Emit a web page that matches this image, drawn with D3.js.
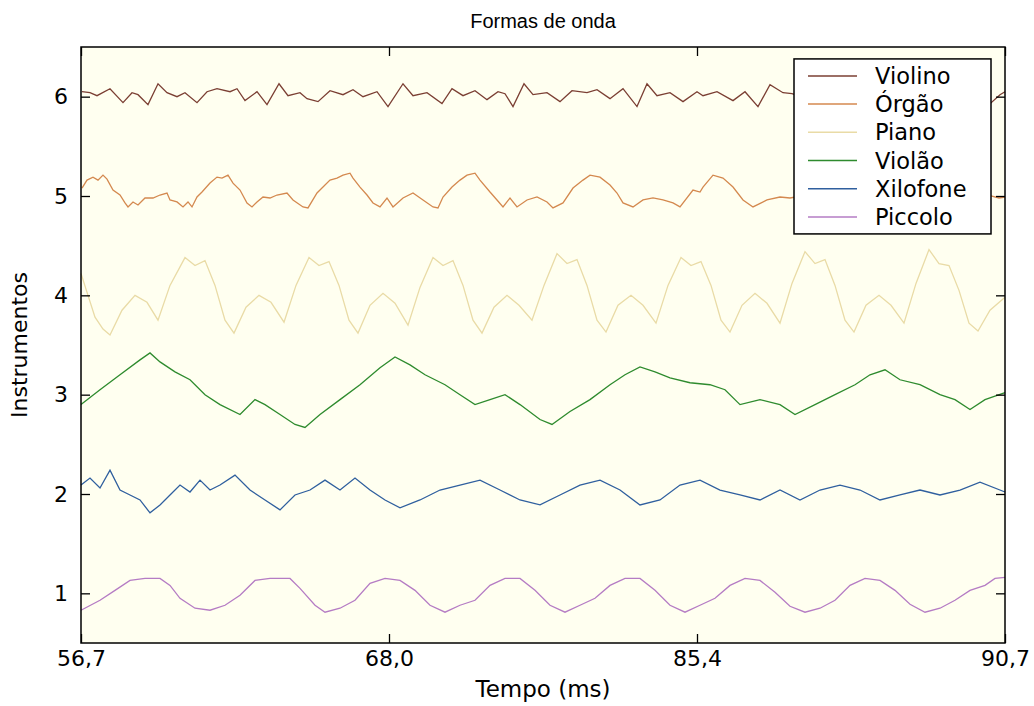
<!DOCTYPE html>
<html>
<head>
<meta charset="utf-8">
<script src="https://cdn.jsdelivr.net/npm/d3@7.9.0/dist/d3.min.js"></script>
<style>
  body { margin: 0; background: #fff; }
  text { font-family: "DejaVu Sans", Arial, sans-serif; fill: #000; }
</style>
</head>
<body>
<svg id="chart" width="1034" height="706"></svg>
<script>
// sample index 0..924 across the window, value in "instrument" units
const xTickLabels = ["56,7", "68,0", "85,4", "90,7"];
const yTicks = [1, 2, 3, 4, 5, 6];
const instruments = ["Violino", "Órgão", "Piano", "Violão", "Xilofone", "Piccolo"];
const colors = ["#7b3f33", "#d4894f", "#e9dba6", "#2e8b2e", "#2f5f9e", "#b57cc4"];

const violino = [[1,6.05],[9,6.04],[16,6.01],[29,6.08],[42,5.94],[51,6.04],[57,6.02],[67,5.92],[77,6.13],[86,6.04],[96,6.0],[104,6.04],[116,5.94],[126,6.05],[136,6.08],[149,6.05],[156,6.08],[164,5.96],[176,6.05],[186,5.92],[198,6.13],[207,6.01],[219,6.04],[226,5.98],[237,5.95],[249,6.06],[262,6.02],[272,6.07],[282,6.0],[296,6.05],[307,5.9],[322,6.13],[332,6.01],[346,6.04],[361,5.93],[371,6.08],[382,6.01],[394,6.06],[406,5.97],[417,6.05],[424,6.03],[432,5.9],[443,6.13],[452,6.02],[466,6.04],[479,5.95],[491,6.06],[506,6.04],[516,6.07],[529,5.98],[542,6.08],[556,5.9],[566,6.13],[576,6.01],[589,6.04],[602,5.95],[616,6.05],[622,6.01],[636,6.05],[652,5.96],[664,6.05],[677,5.9],[689,6.12],[702,6.04],[711,6.03],[720,6.0],[735,6.06],[748,5.94],[760,6.05],[775,6.08],[788,6.05],[798,5.92],[810,6.13],[820,6.02],[835,6.04],[848,5.95],[860,6.06],[872,6.07],[884,6.0],[896,6.05],[908,5.92],[919,6.02],[924,6.05]];

const orgao = [[1,5.08],[6,5.16],[12,5.19],[17,5.16],[22,5.21],[26,5.17],[32,5.06],[39,5.01],[44,4.93],[47,4.89],[52,4.94],[57,4.91],[64,4.98],[72,4.98],[79,5.01],[86,5.03],[89,4.96],[96,4.94],[102,4.89],[107,4.94],[111,4.89],[116,4.99],[121,5.04],[129,5.13],[136,5.19],[141,5.18],[147,5.21],[152,5.13],[159,5.06],[166,4.93],[171,4.89],[176,4.94],[182,4.99],[189,4.98],[196,5.01],[206,5.03],[212,4.96],[222,4.89],[227,4.88],[236,5.03],[242,5.09],[249,5.16],[256,5.18],[262,5.21],[269,5.23],[272,5.18],[279,5.09],[286,5.01],[292,4.93],[299,4.89],[306,4.98],[312,4.89],[322,4.98],[332,5.03],[342,4.96],[352,4.89],[357,4.88],[362,4.99],[371,5.09],[379,5.16],[386,5.21],[394,5.23],[399,5.16],[409,5.04],[416,4.96],[422,4.89],[429,4.98],[436,4.89],[446,4.96],[456,4.99],[466,4.94],[472,4.88],[482,4.93],[492,5.08],[502,5.16],[509,5.21],[519,5.19],[529,5.11],[536,5.03],[542,4.93],[552,4.89],[562,4.96],[572,4.98],[582,4.96],[592,4.93],[599,4.89],[612,5.06],[619,5.04],[622,5.09],[632,5.21],[642,5.18],[652,5.09],[662,4.96],[672,4.89],[686,4.96],[699,4.99],[709,4.98],[720,5.0],[730,4.95],[742,5.05],[752,5.12],[762,5.2],[772,5.18],[782,5.08],[792,4.95],[802,4.9],[815,4.97],[830,4.95],[845,4.9],[858,5.0],[870,5.1],[880,5.18],[890,5.2],[900,5.1],[910,5.0],[918,4.98],[924,4.99]];

const piano = [[0,4.22],[7,4.0],[14,3.78],[22,3.66],[29,3.6],[41,3.85],[54,4.0],[66,3.93],[77,3.75],[89,4.1],[104,4.38],[114,4.3],[124,4.35],[134,4.1],[144,3.75],[153,3.62],[165,3.88],[178,4.0],[190,3.93],[203,3.73],[215,4.1],[228,4.38],[238,4.3],[248,4.34],[258,4.1],[268,3.75],[277,3.62],[289,3.9],[302,4.02],[314,3.92],[327,3.7],[339,4.08],[352,4.38],[362,4.3],[372,4.35],[382,4.1],[392,3.75],[401,3.62],[413,3.88],[426,4.0],[438,3.9],[451,3.75],[463,4.1],[476,4.42],[486,4.32],[496,4.36],[506,4.1],[516,3.75],[525,3.63],[537,3.9],[550,4.0],[562,3.9],[575,3.72],[587,4.1],[600,4.38],[610,4.3],[620,4.34],[630,4.1],[640,3.75],[649,3.63],[661,3.9],[674,4.02],[686,3.92],[699,3.72],[711,4.12],[724,4.44],[734,4.32],[744,4.36],[754,4.1],[764,3.75],[773,3.63],[785,3.9],[798,4.0],[810,3.9],[823,3.72],[835,4.12],[848,4.46],[858,4.32],[868,4.3],[878,4.05],[888,3.72],[897,3.64],[909,3.85],[924,3.98]];

const violao = [[0,2.9],[19,3.05],[39,3.2],[59,3.35],[69,3.42],[79,3.33],[94,3.23],[109,3.15],[124,3.0],[139,2.9],[159,2.8],[174,2.95],[184,2.9],[199,2.8],[214,2.7],[224,2.67],[239,2.8],[259,2.95],[279,3.1],[299,3.27],[314,3.38],[329,3.3],[344,3.2],[364,3.1],[379,3.0],[394,2.9],[409,2.95],[424,3.0],[439,2.9],[459,2.75],[471,2.7],[489,2.83],[509,2.95],[529,3.1],[544,3.2],[559,3.28],[574,3.23],[589,3.17],[609,3.12],[629,3.1],[644,3.05],[659,2.9],[679,2.95],[699,2.9],[714,2.8],[734,2.9],[754,3.0],[774,3.1],[789,3.2],[804,3.25],[819,3.15],[839,3.1],[859,3.0],[874,2.95],[889,2.85],[904,2.95],[924,3.02]];

const xilofone = [[0,2.09],[9,2.16],[19,2.06],[29,2.24],[39,2.04],[49,1.99],[59,1.94],[69,1.81],[79,1.89],[89,1.99],[99,2.09],[109,2.02],[119,2.14],[129,2.04],[139,2.09],[154,2.19],[169,2.04],[184,1.94],[199,1.84],[214,1.99],[229,2.04],[244,2.14],[259,2.04],[274,2.16],[289,2.04],[304,1.94],[319,1.86],[339,1.94],[359,2.04],[379,2.09],[399,2.14],[419,2.04],[439,1.94],[459,1.89],[479,1.99],[499,2.09],[519,2.14],[539,2.04],[559,1.89],[579,1.94],[599,2.09],[619,2.14],[639,2.04],[659,1.99],[679,1.94],[699,2.04],[719,1.94],[739,2.04],[759,2.09],[779,2.04],[799,1.94],[819,1.99],[839,2.04],[859,1.99],[879,2.04],[899,2.12],[924,2.02]];

const piccolo = [[0,0.83],[19,0.93],[34,1.03],[49,1.13],[64,1.15],[79,1.15],[89,1.08],[99,0.95],[114,0.85],[129,0.83],[144,0.88],[159,0.98],[174,1.13],[189,1.15],[209,1.15],[219,1.05],[234,0.88],[244,0.81],[259,0.85],[274,0.93],[289,1.1],[304,1.15],[319,1.13],[334,1.03],[349,0.88],[364,0.81],[379,0.88],[394,0.93],[409,1.08],[424,1.15],[439,1.15],[454,1.03],[469,0.88],[484,0.81],[499,0.88],[514,0.95],[529,1.08],[544,1.15],[559,1.15],[574,1.03],[589,0.88],[604,0.81],[619,0.88],[634,0.95],[649,1.08],[664,1.15],[679,1.13],[694,1.01],[709,0.87],[724,0.81],[739,0.85],[754,0.93],[769,1.08],[784,1.15],[799,1.13],[814,1.03],[829,0.89],[844,0.81],[859,0.85],[874,0.93],[889,1.03],[904,1.08],[914,1.15],[924,1.16]];

const seriesData = [violino, orgao, piano, violao, xilofone, piccolo];

const svg = d3.select("#chart");
const margin = { top: 47, right: 29, bottom: 63, left: 81 };
const width = +svg.attr("width") - margin.left - margin.right;
const height = +svg.attr("height") - margin.top - margin.bottom;
const g = svg.append("g").attr("transform", `translate(${margin.left},${margin.top})`);

const x = d3.scaleLinear().domain([0, 924]).range([0, width]);
const y = d3.scaleLinear().domain([0.5, 6.5]).range([height, 0]);
// tick labels sit at equal steps across the window
const xt = d3.scalePoint().domain(xTickLabels).range([0, width]);

g.append("rect")
  .attr("width", width)
  .attr("height", height)
  .attr("fill", "#fffff0");

const line = d3.line()
  .x(d => x(d[0]))
  .y(d => y(d[1]));

g.append("g")
  .selectAll("path")
  .data(seriesData)
  .join("path")
  .attr("fill", "none")
  .attr("stroke", (d, i) => colors[i])
  .attr("stroke-width", 1.3)
  .attr("d", line);

// axes, ticks drawn inward on all four sides
const tickLen = 9;
const axisStyle = sel => {
  sel.select(".domain").remove();
  sel.selectAll("line").attr("stroke", "#000").attr("stroke-width", 1.3);
  sel.selectAll("text").style("font-size", "22px");
};

g.append("g")
  .attr("transform", `translate(0,${height})`)
  .call(d3.axisBottom(xt).tickSizeInner(-tickLen).tickSizeOuter(0).tickPadding(7))
  .call(axisStyle);

g.append("g")
  .call(d3.axisTop(xt).tickSizeInner(-tickLen).tickSizeOuter(0).tickFormat(""))
  .call(axisStyle);

g.append("g")
  .call(d3.axisLeft(y).tickValues(yTicks).tickFormat(d3.format("d")).tickSizeInner(-tickLen).tickSizeOuter(0).tickPadding(13))
  .call(axisStyle);

g.append("g")
  .attr("transform", `translate(${width},0)`)
  .call(d3.axisRight(y).tickValues(yTicks).tickSizeInner(-tickLen).tickSizeOuter(0).tickFormat(""))
  .call(axisStyle);

g.append("rect")
  .attr("width", width)
  .attr("height", height)
  .attr("fill", "none")
  .attr("stroke", "#000")
  .attr("stroke-width", 1.5);

// legend
const legend = g.append("g").attr("transform", `translate(${x(713)},${y(6.38)})`);
legend.append("rect")
  .attr("width", 197)
  .attr("height", 175)
  .attr("fill", "#fff")
  .attr("stroke", "#000")
  .attr("stroke-width", 1.5);

const rows = legend.selectAll(".row")
  .data(instruments)
  .join("g")
  .attr("class", "row")
  .attr("transform", (d, i) => `translate(0,${17 + i * 28.2})`);

rows.append("line")
  .attr("x1", 14).attr("x2", 63)
  .attr("stroke", (d, i) => colors[i])
  .attr("stroke-width", 1.5);

rows.append("text")
  .attr("x", 81)
  .attr("dy", "0.36em")
  .style("font-size", "22.5px")
  .text(d => d);

// titles
svg.append("text")
  .attr("x", margin.left + width / 2)
  .attr("y", 28)
  .attr("text-anchor", "middle")
  .style("font-family", "'Liberation Sans', Arial, sans-serif")
  .style("font-size", "20px")
  .text("Formas de onda");

svg.append("text")
  .attr("x", margin.left + width / 2)
  .attr("y", 697)
  .attr("text-anchor", "middle")
  .style("font-size", "23px")
  .text("Tempo (ms)");

svg.append("text")
  .attr("transform", `translate(27,${margin.top + height / 2}) rotate(-90)`)
  .attr("text-anchor", "middle")
  .style("font-size", "22px")
  .text("Instrumentos");
</script>
</body>
</html>
